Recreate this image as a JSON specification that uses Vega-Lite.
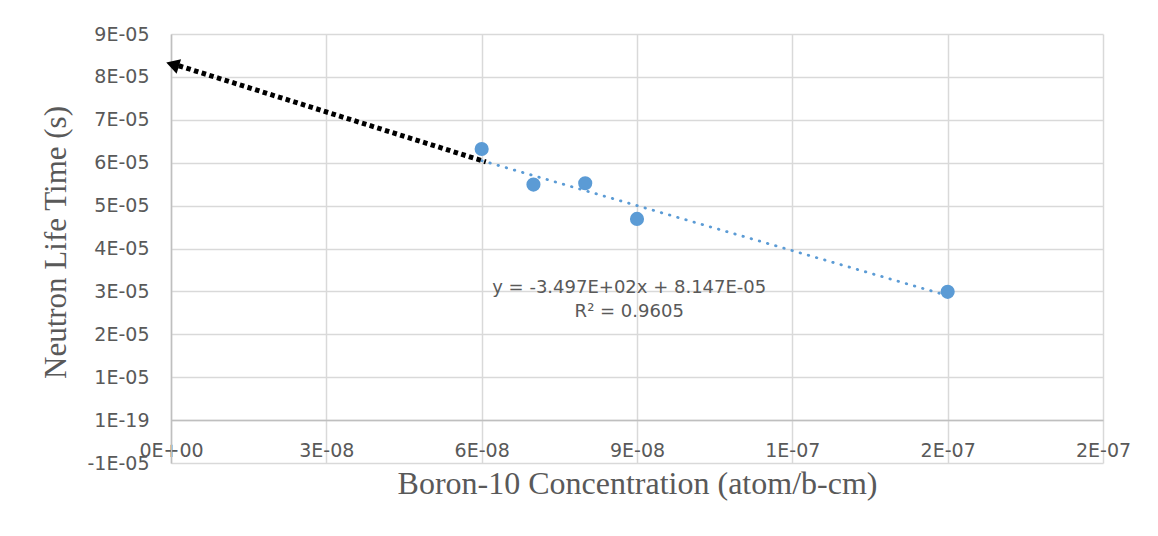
{
  "$schema": "https://vega.github.io/schema/vega-lite/v6.json",
  "autosize": "none",
  "width": 932,
  "height": 429,
  "padding": {"left": 171, "top": 34, "right": 55, "bottom": 73},
  "background": "white",
  "datasets": {
    "points": [
      {"conc": 6e-8, "life": 6.32e-5},
      {"conc": 7e-8, "life": 5.49e-5},
      {"conc": 8e-8, "life": 5.52e-5},
      {"conc": 9e-8, "life": 4.69e-5},
      {"conc": 1.5e-7, "life": 2.99e-5}
    ],
    "trend": [
      {"conc": 6e-8, "life": 6.049e-5},
      {"conc": 1.5e-7, "life": 2.9015e-5}
    ],
    "arrow": [
      {"conc": 6.08e-8, "life": 6.02e-5},
      {"conc": 1.5e-9, "life": 8.26e-5}
    ],
    "head": [
      {"conc": 3e-10, "life": 8.29e-5}
    ],
    "labels": [
      {"conc": 8.85e-8, "life": 3.08e-5, "text": "y = -3.497E+02x + 8.147E-05"},
      {"conc": 8.85e-8, "life": 2.52e-5, "text": "R² = 0.9605"}
    ]
  },
  "config": {
    "view": {"stroke": null},
    "axis": {
      "labelFont": "DejaVu Sans",
      "labelFontSize": 19,
      "labelColor": "#595959",
      "titleFont": "Liberation Serif",
      "titleFontWeight": "normal",
      "titleColor": "#595959",
      "gridColor": "#d9d9d9",
      "gridWidth": 1.5,
      "domainColor": "#bfbfbf",
      "domainWidth": 1.5,
      "tickSize": 0
    }
  },
  "layer": [
    {
      "data": {"name": "points"},
      "mark": {"type": "point", "filled": true, "size": 200, "color": "#5b9bd5", "opacity": 1},
      "encoding": {
        "x": {
          "field": "conc", "type": "quantitative",
          "scale": {"domain": [0, 1.8e-7], "nice": false, "zero": false},
          "axis": {
            "title": "Boron-10 Concentration (atom/b-cm)",
            "titleFontSize": 32,
            "values": [0, 3e-8, 6e-8, 9e-8, 1.2e-7, 1.5e-7, 1.8e-7],
            "labelExpr": "['0E+00','3E-08','6E-08','9E-08','1E-07','2E-07','2E-07'][round(datum.value/3e-8)]",
            "offset": -43,
            "labelPadding": 21,
            "titlePadding": 8,
            "labelFlush": false
          }
        },
        "y": {
          "field": "life", "type": "quantitative",
          "scale": {"domain": [-1e-5, 9e-5], "nice": false, "zero": false},
          "axis": {
            "title": "Neutron Life Time (s)",
            "titleFontSize": 31,
            "titleY": 208,
            "values": [-1e-5, 0, 1e-5, 2e-5, 3e-5, 4e-5, 5e-5, 6e-5, 7e-5, 8e-5, 9e-5],
            "labelExpr": "round(datum.value*1e5) == 0 ? '1E-19' : (round(datum.value*1e5) < 0 ? '-1E-05' : round(datum.value*1e5) + 'E-05')",
            "labelPadding": 22,
            "titlePadding": 15,
            "labelFlush": false
          }
        }
      }
    },
    {
      "data": {"name": "trend"},
      "mark": {"type": "line", "color": "#5b9bd5", "strokeWidth": 2.8, "strokeDash": [0.5, 8], "strokeCap": "round"},
      "encoding": {
        "x": {"field": "conc", "type": "quantitative"},
        "y": {"field": "life", "type": "quantitative"}
      }
    },
    {
      "data": {"name": "arrow"},
      "mark": {"type": "line", "color": "black", "strokeWidth": 5, "strokeDash": [4.5, 3.5], "clip": false},
      "encoding": {
        "x": {"field": "conc", "type": "quantitative"},
        "y": {"field": "life", "type": "quantitative"}
      }
    },
    {
      "data": {"name": "head"},
      "mark": {"type": "point", "shape": "triangle-up", "filled": true, "color": "black", "opacity": 1, "size": 230, "angle": 287, "clip": false},
      "encoding": {
        "x": {"field": "conc", "type": "quantitative"},
        "y": {"field": "life", "type": "quantitative"}
      }
    },
    {
      "data": {"name": "labels"},
      "mark": {"type": "text", "font": "DejaVu Sans", "fontSize": 18, "color": "#595959"},
      "encoding": {
        "x": {"field": "conc", "type": "quantitative"},
        "y": {"field": "life", "type": "quantitative"},
        "text": {"field": "text"}
      }
    }
  ]
}
